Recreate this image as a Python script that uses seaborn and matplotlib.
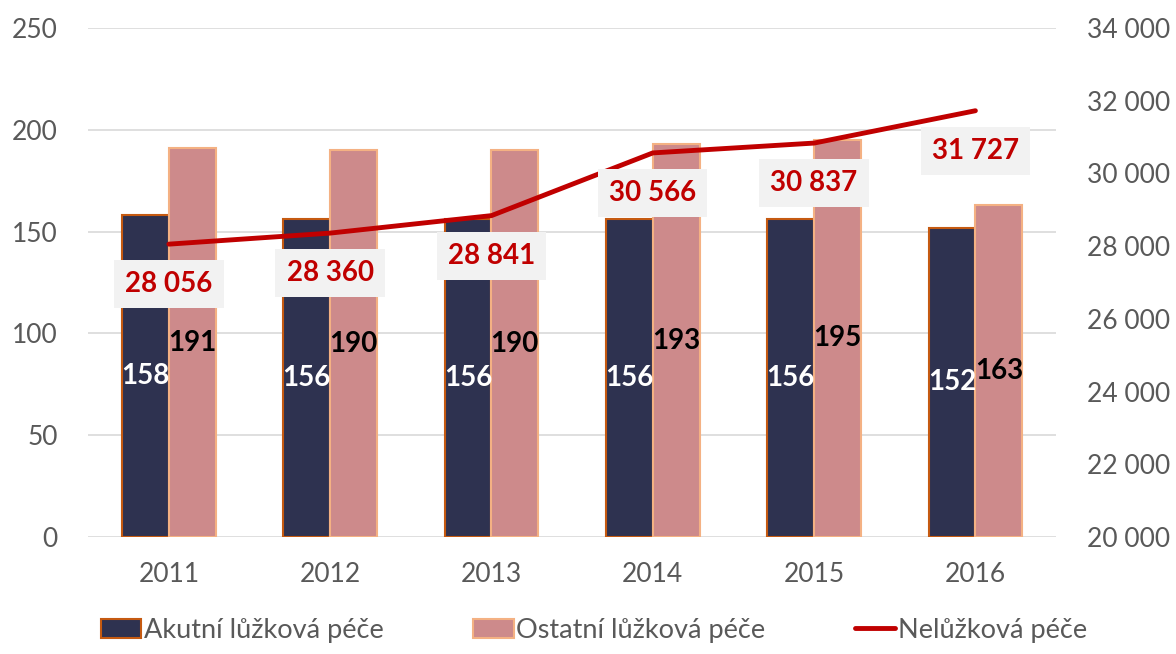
import numpy as np
import pandas as pd
import seaborn as sns
import matplotlib.pyplot as plt
from matplotlib.patches import Patch
from matplotlib.lines import Line2D
from matplotlib.ticker import FuncFormatter

years = ["2011", "2012", "2013", "2014", "2015", "2016"]
akutni = [158, 156, 156, 156, 156, 152]
ostatni = [191, 190, 190, 193, 195, 163]
neluzkova = [28056, 28360, 28841, 30566, 30837, 31727]

series_names = ["Akutní lůžková péče", "Ostatní lůžková péče", "Nelůžková péče"]
bar_colors = ["#2E3250", "#CD8A8B"]
edge_colors = ["#C55A11", "#F4B183"]
line_color = "#C00000"
text_gray = "#595959"

sns.set_theme(style="white")
plt.rcParams['font.family'] = ['Lato', 'DejaVu Sans']

df = pd.DataFrame({
    "rok": years * 2,
    "hodnota": akutni + ostatni,
    "typ": [series_names[0]] * len(years) + [series_names[1]] * len(years),
})

fig = plt.figure(figsize=(11.76, 6.54), dpi=100)
ax = fig.add_axes([0.075, 0.179, 0.823, 0.778])

sns.barplot(data=df, x="rok", y="hodnota", hue="typ", palette=bar_colors,
            width=0.58, gap=0, ax=ax, legend=False, saturation=1)

label_colors = ["white", "black"]
for i, cont in enumerate(ax.containers):
    for p in cont.patches:
        p.set_edgecolor(edge_colors[i])
        p.set_linewidth(1.5)
    ax.bar_label(cont, label_type="center", color=label_colors[i],
                 fontsize=20, fontweight="bold")

ax.set_ylim(0, 250)
ax.set_yticks(range(0, 251, 50))
ax.set_xlim(-0.5, 5.5)
ax.set_xlabel("")
ax.set_ylabel("")
ax.grid(axis="y", color="#D9D9D9", linewidth=1.2)
ax.set_axisbelow(True)
for s in ax.spines.values():
    s.set_visible(False)
ax.tick_params(axis="y", length=0, pad=22, labelsize=19, labelcolor=text_gray)
ax.tick_params(axis="x", length=0, pad=18, labelsize=19, labelcolor=text_gray)

ax2 = ax.twinx()
x_pos = np.arange(len(years))
sns.lineplot(x=x_pos, y=neluzkova, ax=ax2, color=line_color, linewidth=3.5,
             solid_capstyle="round")
ax2.set_ylim(20000, 34000)
ax2.set_yticks(range(20000, 34001, 2000))
ax2.yaxis.set_major_formatter(FuncFormatter(lambda v, _: f"{int(v):,}".replace(",", " ")))
ax2.set_xlim(-0.5, 5.5)
for s in ax2.spines.values():
    s.set_visible(False)
ax2.tick_params(axis="y", length=0, pad=22, labelsize=19, labelcolor=text_gray)
ax2.set_ylabel("")

for xi, v in zip(x_pos, neluzkova):
    ax2.annotate(f"{v:,}".replace(",", " "), (xi, v), xytext=(0, -40),
                 textcoords="offset pixels", ha="center", va="center",
                 color=line_color, fontsize=20, fontweight="bold",
                 bbox=dict(boxstyle="square,pad=0.4", facecolor="#F2F2F2",
                           edgecolor="none"))

handles = [
    Patch(facecolor=bar_colors[0], edgecolor=edge_colors[0], linewidth=1.5),
    Patch(facecolor=bar_colors[1], edgecolor=edge_colors[1], linewidth=1.5),
    Line2D([0], [0], color=line_color, linewidth=3.5, solid_capstyle="round"),
]
leg = fig.legend(handles, series_names, loc="lower center", ncol=3,
                 bbox_to_anchor=(0.505, -0.02), frameon=False, fontsize=19.5,
                 handlelength=1.5, handletextpad=0.1, columnspacing=3.3)
for t in leg.get_texts():
    t.set_color(text_gray)

fig.savefig("out.png", dpi=100)
